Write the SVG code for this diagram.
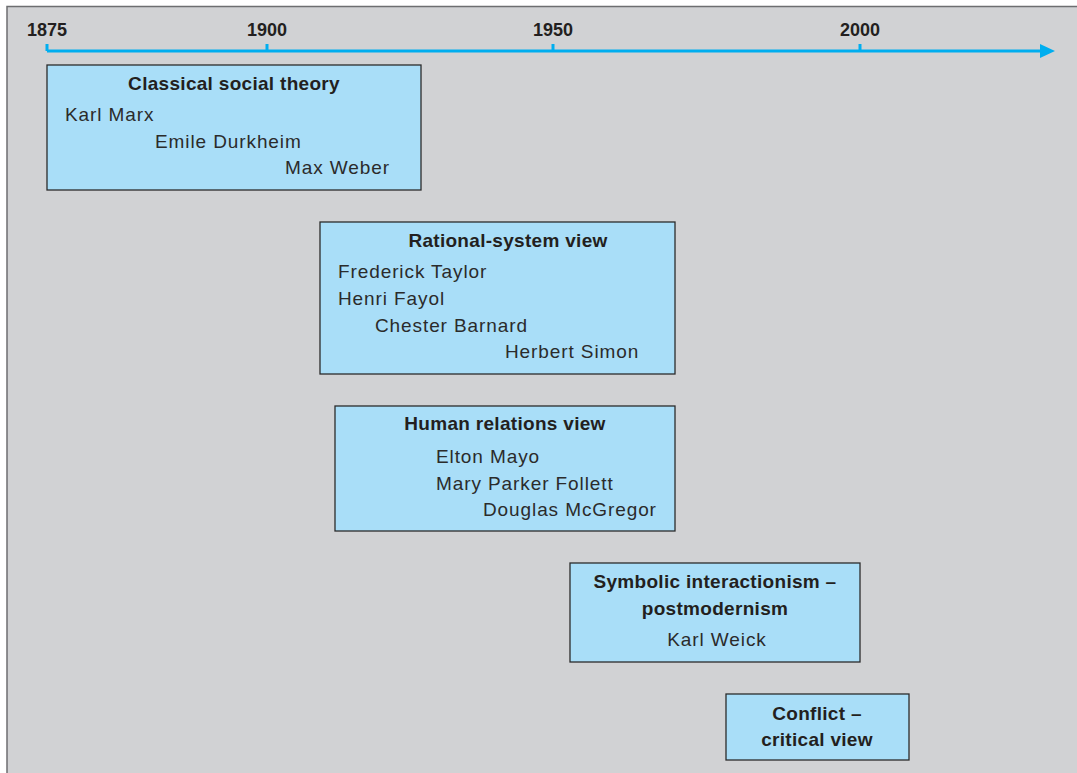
<svg xmlns="http://www.w3.org/2000/svg" width="1077" height="773" viewBox="0 0 1077 773">
<defs>
<style>
.box{fill:#a9def8;stroke:#2b2b2b;stroke-width:1.3}
.t{font-family:"Liberation Sans",Arial,sans-serif;font-size:19px;font-weight:bold;fill:#231f20;letter-spacing:0.3px}
.n{font-family:"Liberation Sans",Arial,sans-serif;font-size:19px;fill:#2b2b2b;letter-spacing:0.9px}
.y{font-family:"Liberation Sans",Arial,sans-serif;font-size:18px;font-weight:bold;fill:#231f20}
.ax{stroke:#00aeef;stroke-width:3;fill:none}
</style>
<marker id="arr" markerWidth="10" markerHeight="10" refX="0" refY="5" orient="auto" markerUnits="userSpaceOnUse" viewBox="0 0 10 10">
<path d="M0,0 L10,5 L0,10 Z" fill="#00aeef"/>
</marker>
</defs>
<rect x="0" y="0" width="1077" height="773" fill="#ffffff"/>
<rect x="7" y="6.5" width="1075" height="770" fill="#d1d2d4" stroke="#6d6e70" stroke-width="1.5"/>
<g id="axis">
<path class="ax" d="M47,51 H1042" marker-end="url(#arr)"/>
<path d="M1040,44 L1055,51 L1040,58 Z" fill="#00aeef"/>
<path class="ax" d="M47,44 V51 M267,44 V51 M553,44 V51 M860,44 V51" stroke-width="2.5"/>
<text class="y" x="47" y="36" text-anchor="middle">1875</text>
<text class="y" x="267" y="36" text-anchor="middle">1900</text>
<text class="y" x="553" y="36" text-anchor="middle">1950</text>
<text class="y" x="860" y="36" text-anchor="middle">2000</text>
</g>
<g id="classical">
<rect class="box" x="47" y="65" width="374" height="125"/>
<text class="t" x="234" y="90" text-anchor="middle">Classical social theory</text>
<text class="n" x="65" y="121">Karl Marx</text>
<text class="n" x="155" y="148">Emile Durkheim</text>
<text class="n" x="285" y="174">Max Weber</text>
</g>
<g id="rational">
<rect class="box" x="320" y="222" width="355" height="152"/>
<text class="t" x="508" y="247" text-anchor="middle">Rational-system view</text>
<text class="n" x="338" y="278">Frederick Taylor</text>
<text class="n" x="338" y="305">Henri Fayol</text>
<text class="n" x="375" y="332">Chester Barnard</text>
<text class="n" x="505" y="358">Herbert Simon</text>
</g>
<g id="human">
<rect class="box" x="335" y="406" width="340" height="125"/>
<text class="t" x="505" y="430" text-anchor="middle">Human relations view</text>
<text class="n" x="436" y="463">Elton Mayo</text>
<text class="n" x="436" y="490">Mary Parker Follett</text>
<text class="n" x="483" y="516">Douglas McGregor</text>
</g>
<g id="symbolic">
<rect class="box" x="570" y="563" width="290" height="99"/>
<text class="t" x="715" y="588" text-anchor="middle">Symbolic interactionism –</text>
<text class="t" x="715" y="615" text-anchor="middle">postmodernism</text>
<text class="n" x="717" y="646" text-anchor="middle">Karl Weick</text>
</g>
<g id="conflict">
<rect class="box" x="726" y="694" width="183" height="66"/>
<text class="t" x="817" y="720" text-anchor="middle">Conflict –</text>
<text class="t" x="817" y="746" text-anchor="middle">critical view</text>
</g>
<g id="connectors"></g>
</svg>
